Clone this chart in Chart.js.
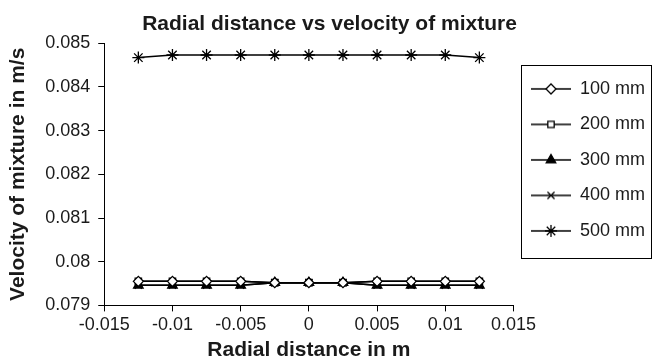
<!DOCTYPE html>
<html>
<head>
<meta charset="utf-8">
<script src="https://cdn.jsdelivr.net/npm/chart.js@4.4.1/dist/chart.umd.min.js"></script>
<style>
    html, body { margin: 0; padding: 0; background: #fff; }
</style>
</head>
<body>
<canvas id="chart" width="656" height="361"></canvas>
<script>
// Radial positions (m)
var radial = [-0.0125, -0.01, -0.0075, -0.005, -0.0025, 0, 0.0025, 0.005, 0.0075, 0.01, 0.0125];

// Velocity of mixture (m/s) for each height
var v100 = [0.07955, 0.07955, 0.07955, 0.07955, 0.07952, 0.07952, 0.07952, 0.07955, 0.07955, 0.07955, 0.07955];
var v200 = [0.07955, 0.07955, 0.07955, 0.07955, 0.07952, 0.07952, 0.07952, 0.07955, 0.07955, 0.07955, 0.07955];
var v300 = [0.07946, 0.07946, 0.07946, 0.07946, 0.07952, 0.07952, 0.07952, 0.07946, 0.07946, 0.07946, 0.07946];
var v400 = [0.07946, 0.07946, 0.07946, 0.07946, 0.07952, 0.07952, 0.07952, 0.07946, 0.07946, 0.07946, 0.07946];
var v500 = [0.08467, 0.08473, 0.08473, 0.08473, 0.08473, 0.08473, 0.08473, 0.08473, 0.08473, 0.08473, 0.08467];

var seriesLabels = ['100 mm', '200 mm', '300 mm', '400 mm', '500 mm'];
var seriesValues = [v100, v200, v300, v400, v500];
var markers = ['rectRot', 'rect', 'triangle', 'crossRot', 'star'];
var markerFill = ['#fff', '#fff', '#000', '#000', '#000'];
var markerSize = [5, 4.5, 5.5, 5, 6];

var FONT = "'Liberation Sans', Arial, sans-serif";
var TEXT = '#1a1a1a';

// Helper: trim tick numbers like Excel does (0.080 -> 0.08)
function trimTick(v) {
    return String(parseFloat(Number(v).toFixed(4)));
}

// Legend icons: short line with the marker in the middle
function makeIcon(i) {
    var c = document.createElement('canvas');
    c.width = 40;
    c.height = 16;
    var g = c.getContext('2d');
    g.strokeStyle = '#000';
    g.lineWidth = 1.5;
    g.beginPath();
    g.moveTo(0, 8);
    g.lineTo(40, 8);
    g.stroke();
    g.fillStyle = markerFill[i];
    g.lineWidth = 1.3;
    Chart.helpers.drawPoint(g, {pointStyle: markers[i], radius: markerSize[i], borderWidth: 1.3, rotation: 0}, 20, 8);
    return c;
}

var datasets = seriesLabels.map(function(label, i) {
    return {
        label: label,
        data: radial.map(function(r, k) { return {x: r, y: seriesValues[i][k]}; }),
        borderColor: '#000',
        borderWidth: 1.5,
        backgroundColor: markerFill[i],
        pointStyle: markers[i],
        pointRadius: markerSize[i],
        pointBorderColor: '#000',
        pointBackgroundColor: markerFill[i],
        pointBorderWidth: 1.3,
        fill: false,
        tension: 0
    };
});

// Border round the legend
var legendFrame = {
    id: 'legendFrame',
    afterDraw: function(chart) {
        var boxes = chart.legend.legendHitBoxes;
        if (!boxes || !boxes.length) return;
        var first = boxes[0];
        var last = boxes[boxes.length - 1];
        var top = Math.round(first.top + first.height / 2 - 24);
        var bottom = Math.round(last.top + last.height / 2 + 27);
        var ctx = chart.ctx;
        ctx.save();
        ctx.strokeStyle = '#000';
        ctx.lineWidth = 1;
        ctx.strokeRect(521.5, top + 0.5, 130, bottom - top);
        ctx.restore();
    }
};

var ctx = document.getElementById('chart').getContext('2d');
new Chart(ctx, {
    type: 'line',
    data: {datasets: datasets},
    plugins: [legendFrame],
    options: {
        responsive: false,
        animation: false,
        layout: {padding: {left: 4, right: 1, top: 0, bottom: 0}},
        plugins: {
            title: {
                display: true,
                text: 'Radial distance vs velocity of mixture',
                color: TEXT,
                font: {family: FONT, size: 21, weight: 'bold'},
                padding: {top: 12, bottom: 6}
            },
            legend: {
                position: 'right',
                align: 'start',
                fullSize: false,
                title: {display: true, text: ' ', font: {size: 1}, padding: {top: 18, bottom: 0}},
                labels: {
                    usePointStyle: true,
                    pointStyleWidth: 40,
                    padding: 17.5,
                    color: TEXT,
                    font: {family: FONT, size: 18},
                    generateLabels: function(chart) {
                        return chart.data.datasets.map(function(ds, i) {
                            return {
                                text: ds.label,
                                pointStyle: makeIcon(i),
                                fillStyle: markerFill[i],
                                strokeStyle: '#000',
                                lineWidth: 0,
                                fontColor: TEXT,
                                hidden: false,
                                datasetIndex: i
                            };
                        });
                    }
                }
            },
            tooltip: {enabled: false}
        },
        scales: {
            x: {
                type: 'linear',
                min: -0.015,
                max: 0.015,
                ticks: {
                    stepSize: 0.005,
                    color: TEXT,
                    font: {family: FONT, size: 18},
                    padding: 3,
                    maxRotation: 0,
                    callback: function(v) { return trimTick(v); }
                },
                grid: {display: true, drawOnChartArea: false, color: '#000', tickLength: 6},
                border: {display: true, color: '#000', width: 1},
                title: {
                    display: true,
                    text: 'Radial distance in m',
                    color: TEXT,
                    font: {family: FONT, size: 21, weight: 'bold', lineHeight: 1.0},
                    padding: {top: 1, bottom: 0}
                }
            },
            y: {
                min: 0.079,
                max: 0.085,
                ticks: {
                    stepSize: 0.001,
                    color: TEXT,
                    font: {family: FONT, size: 18},
                    padding: 8,
                    callback: function(v) { return trimTick(v); }
                },
                grid: {display: true, drawOnChartArea: false, color: '#000', tickLength: 6},
                border: {display: true, color: '#000', width: 1},
                title: {
                    display: true,
                    text: 'Velocity of mixture in m/s',
                    color: TEXT,
                    font: {family: FONT, size: 21, weight: 'bold'},
                    padding: {top: 2, bottom: 6}
                }
            }
        }
    }
});
</script>
</body>
</html>
